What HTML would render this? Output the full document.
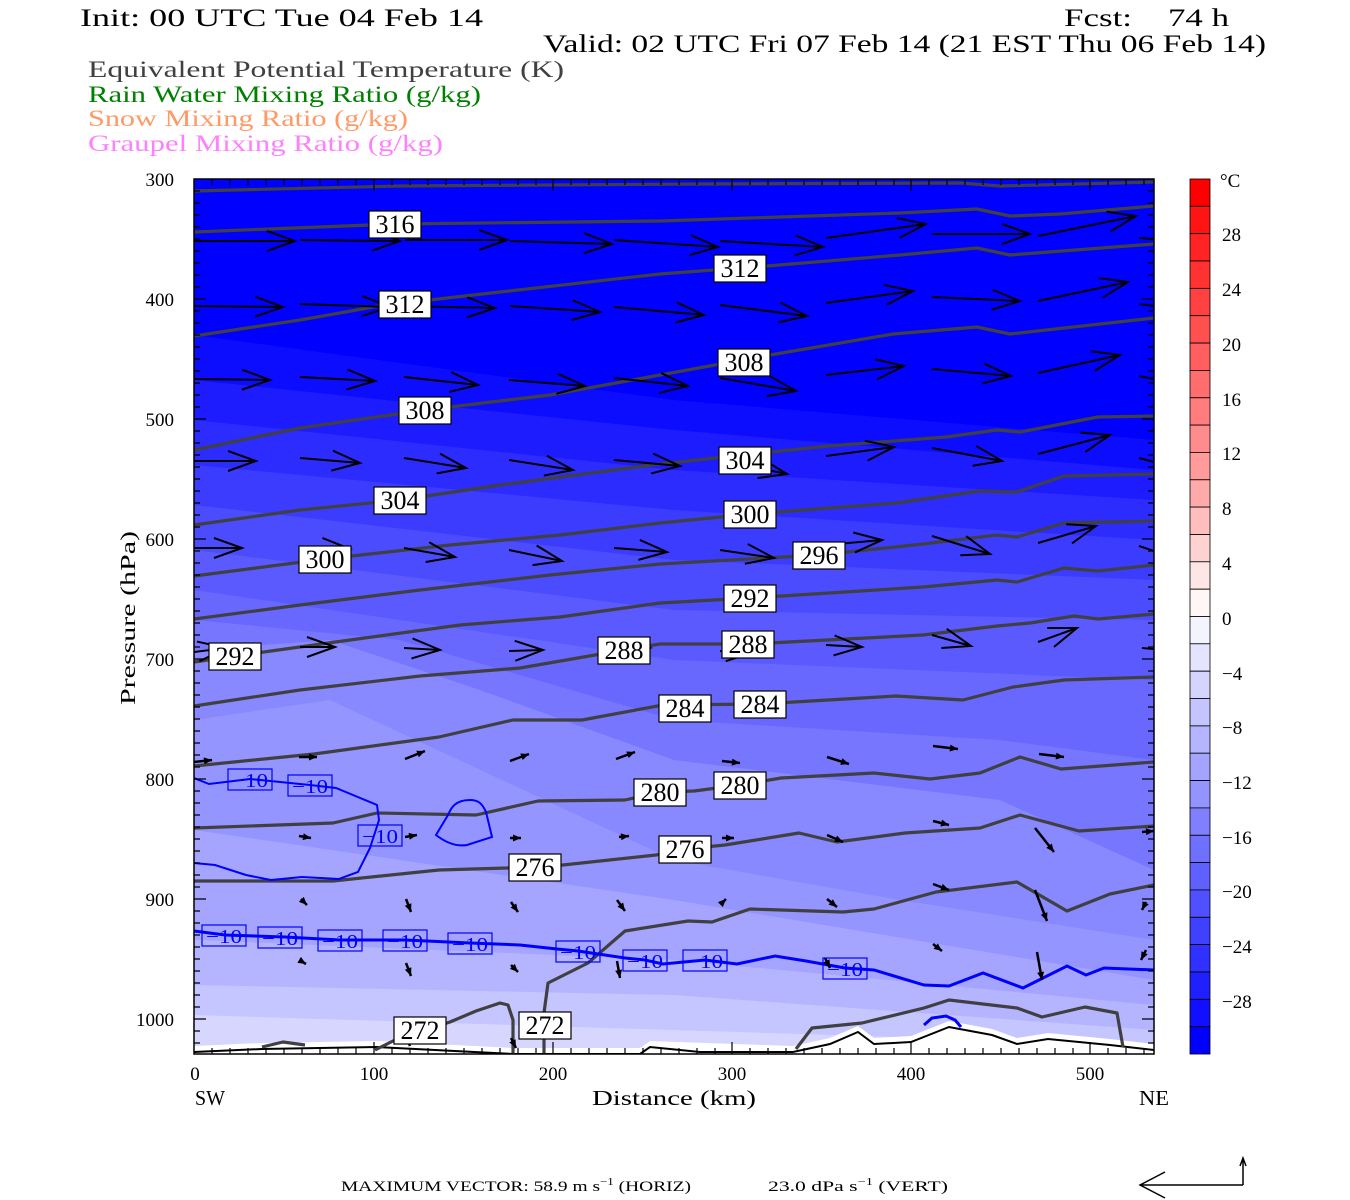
<!DOCTYPE html>
<html><head><meta charset="utf-8"><style>
html,body{margin:0;padding:0;background:#fff;}
svg{display:block;}
text{font-family:"Liberation Serif",serif;}
.cl{fill:#fff;stroke:#000;stroke-width:1.2;}
.ct{font-family:"Liberation Serif",serif;font-size:26px;fill:#000;text-anchor:middle;}
.bl{fill:none;stroke:#0000ff;stroke-width:1.2;}
.bt{font-size:20px;fill:#0000ff;}
.th{fill:none;stroke:#404040;stroke-width:3.2;stroke-linejoin:round;}
.ar{fill:none;stroke:#000;stroke-width:2;marker-end:url(#ab);}
.as{fill:none;stroke:#000;stroke-width:2.5;marker-end:url(#as);}
.ax{font-size:19px;fill:#000;}
</style></head><body>
<svg width="1350" height="1200" viewBox="0 0 1350 1200" xmlns="http://www.w3.org/2000/svg">
<defs>
<marker id="ab" markerUnits="userSpaceOnUse" markerWidth="40" markerHeight="30" viewBox="-32 -15 40 30" refX="0" refY="0" orient="auto"><path d="M-28,-10 L0,0 L-28,10" fill="none" stroke="#000" stroke-width="2"/></marker>
<marker id="as" markerUnits="userSpaceOnUse" markerWidth="14" markerHeight="12" viewBox="-10 -6 14 12" refX="0" refY="0" orient="auto"><path d="M-8,-3.5 L0,0 L-8,3.5 Z" fill="#000"/></marker>
<clipPath id="pc"><rect x="194" y="179" width="960" height="875"/></clipPath>
</defs>

<!-- header -->
<text x="80" y="26" font-size="25" textLength="403" lengthAdjust="spacingAndGlyphs">Init: 00 UTC Tue 04 Feb 14</text>
<text x="1064" y="26" font-size="25" textLength="68" lengthAdjust="spacingAndGlyphs">Fcst:</text>
<text x="1168" y="26" font-size="25" textLength="61" lengthAdjust="spacingAndGlyphs">74 h</text>
<text x="543" y="52" font-size="25" textLength="723" lengthAdjust="spacingAndGlyphs">Valid: 02 UTC Fri 07 Feb 14 (21 EST Thu 06 Feb 14)</text>
<text x="88" y="77" font-size="23" fill="#404040" textLength="476" lengthAdjust="spacingAndGlyphs">Equivalent Potential Temperature (K)</text>
<text x="88" y="102" font-size="23" fill="#008000" textLength="393" lengthAdjust="spacingAndGlyphs">Rain Water Mixing Ratio (g/kg)</text>
<text x="88" y="126" font-size="23" fill="#ff9966" textLength="320" lengthAdjust="spacingAndGlyphs">Snow Mixing Ratio (g/kg)</text>
<text x="88" y="151" font-size="23" fill="#ff80ff" textLength="355" lengthAdjust="spacingAndGlyphs">Graupel Mixing Ratio (g/kg)</text>

<g clip-path="url(#pc)">
<rect x="194" y="179" width="960" height="875" fill="#0000ff"/>
<polygon fill="#0c0cff" points="194,335 674,400 1154,440 1154,1054 194,1054"/>
<polygon fill="#1c1cff" points="194,380 674,430 1154,470 1154,1054 194,1054"/>
<polygon fill="#2c2cff" points="194,420 674,470 1154,500 1154,1054 194,1054"/>
<polygon fill="#3c3cff" points="194,465 674,510 1154,540 1154,1054 194,1054"/>
<polygon fill="#4c4cff" points="194,505 674,560 1154,580 1154,1054 194,1054"/>
<polygon fill="#5a5aff" points="194,550 674,610 1154,620 1154,1054 194,1054"/>
<polygon fill="#6868ff" points="194,590 674,660 1154,680 1154,1054 194,1054"/>
<polygon fill="#7676ff" points="194,620 400,640 674,720 1000,740 1154,760 1154,1054 194,1054"/>
<polygon fill="#8888ff" points="194,650 330,640 480,690 674,760 1000,800 1154,870 1154,1054 194,1054"/>
<polygon fill="#9595ff" points="194,720 330,700 674,860 900,900 1154,940 1154,1054 194,1054"/>
<polygon fill="#a5a5ff" points="194,830 674,900 1154,980 1154,1054 194,1054"/>
<polygon fill="#b5b5ff" points="194,940 674,960 1154,1005 1154,1054 194,1054"/>
<polygon fill="#c5c5ff" points="194,985 674,995 1154,1030 1154,1054 194,1054"/>
<polygon fill="#d6d6ff" points="194,1015 674,1030 1154,1045 1154,1054 194,1054"/>
<polygon fill="#ffffff" points="194,1046 262,1043 377,1041 513,1048 640,1048 650,1041 793,1046 830,1038 858,1026 874,1038 911,1036 949,1021 992,1029 1017,1038 1048,1033 1110,1039 1154,1044 1154,1054 194,1054"/>
<polyline fill="none" stroke="#000" stroke-width="2" points="194,1052 262,1049 377,1047 513,1054 640,1054 650,1047 700,1052 793,1052 830,1044 858,1032 874,1044 911,1042 949,1027 992,1035 1017,1044 1048,1039 1110,1045 1154,1050"/>

<polyline class="th" points="194,191 400,186 700,184 960,183 1000,186 1154,182"/>
<polyline class="th" points="194,232 395,224 660,221 900,213 977,209 1010,216 1060,214 1154,206"/>
<polyline class="th" points="194,336 300,320 385,305 500,292 660,274 767,266 900,255 977,248 1010,255 1154,244"/>
<polyline class="th" points="194,450 300,428 425,410 550,395 660,375 770,355 893,334 977,327 1010,334 1154,318"/>
<polyline class="th" points="194,525 300,510 400,500 500,485 660,464 828,446 946,437 997,430 1020,432 1098,417 1154,416"/>
<polyline class="th" points="194,576 325,559 450,545 560,535 660,523 751,514 896,503 980,491 1017,492 1064,476 1154,474"/>
<polyline class="th" points="194,619 300,605 420,590 550,575 660,564 819,555 923,544 997,535 1017,537 1064,523 1154,521"/>
<polyline class="th" points="194,662 235,656 350,640 460,625 560,617 660,603 750,598 923,587 997,580 1017,582 1064,568 1098,571 1154,565"/>
<polyline class="th" points="194,706 300,690 420,676 520,668 624,650 660,644 750,644 923,635 997,626 1030,623 1074,616 1098,619 1154,614"/>
<polyline class="th" points="194,766 314,754 439,737 513,720 582,720 663,705 760,704 896,696 963,700 1013,687 1064,680 1154,677"/>
<polyline class="th" points="194,828 333,823 377,813 476,815 538,801 625,800 660,792 694,791 740,785 781,778 874,773 930,779 980,773 1020,757 1061,769 1154,762"/>
<polyline class="th" points="194,881 333,881 439,870 507,868 563,865 656,855 685,849 725,845 799,833 837,842 905,833 980,828 1020,815 1079,831 1154,826"/>
<polyline class="th" points="544,1054 544,1013 548,983 588,963 625,931 688,921 712,922 750,909 843,912 874,909 936,892 1017,882 1067,911 1110,894 1154,885"/>
<polyline class="th" points="375,1050 395,1040 450,1022 476,1011 500,1003 508,1005 513,1020 513,1054"/>
<polyline class="th" points="262,1047 283,1042 305,1045"/>
<polyline class="th" points="796,1049 812,1028 862,1023 924,1008 949,1000 1017,1008 1042,1017 1085,1007 1117,1013 1123,1047"/>

<polyline fill="none" stroke="#0000ff" stroke-width="2" points="194,778 209,784 250,779 310,785 336,788 377,805 379,820 370,848 358,872 339,879 302,877 271,880 246,875 215,865 194,863"/>
<path fill="none" stroke="#0000ff" stroke-width="2" d="M470,800 C455,800 451,808 448,815 L436,835 C445,842 455,847 467,845 L492,837 L486,812 C482,803 478,800 470,800 Z"/>
<polyline fill="none" stroke="#0000ff" stroke-width="3" points="194,931 225,935 285,937 340,940 405,940 470,943 520,945 557,949 578,951 625,958 645,960 663,964 705,960 737,964 775,956 806,961 845,968 874,970 924,985 949,986 983,973 1023,988 1067,966 1086,975 1104,968 1154,970"/>
<polyline fill="none" stroke="#0000ff" stroke-width="3" points="924,1025 932,1018 946,1016 955,1020 961,1027"/>

<g>
<line class="ar" x1="194" y1="241" x2="295" y2="241"/><line class="ar" x1="300" y1="240" x2="400" y2="241"/><line class="ar" x1="405" y1="240" x2="507" y2="240"/><line class="ar" x1="510" y1="241" x2="612" y2="244"/><line class="ar" x1="614" y1="240" x2="718" y2="247"/><line class="ar" x1="720" y1="241" x2="823" y2="247"/><line class="ar" x1="826" y1="238" x2="926" y2="224"/><line class="ar" x1="932" y1="234" x2="1030" y2="234"/><line class="ar" x1="1038" y1="236" x2="1136" y2="216"/><line x1="1139" y1="238" x2="1154" y2="239" stroke="#000" stroke-width="2"/>
<line class="ar" x1="194" y1="306" x2="283" y2="307"/><line class="ar" x1="300" y1="304" x2="390" y2="307"/><line class="ar" x1="405" y1="306" x2="495" y2="308"/><line class="ar" x1="510" y1="306" x2="600" y2="312"/><line class="ar" x1="614" y1="307" x2="704" y2="315"/><line class="ar" x1="720" y1="305" x2="807" y2="316"/><line class="ar" x1="826" y1="303" x2="913" y2="291"/><line class="ar" x1="932" y1="297" x2="1020" y2="301"/><line class="ar" x1="1038" y1="301" x2="1128" y2="282"/><line x1="1139" y1="304" x2="1154" y2="306" stroke="#000" stroke-width="2"/>
<line class="ar" x1="194" y1="379" x2="270" y2="380"/><line class="ar" x1="300" y1="377" x2="375" y2="381"/><line class="ar" x1="404" y1="377" x2="478" y2="385"/><line class="ar" x1="509" y1="380" x2="585" y2="386"/><line class="ar" x1="614" y1="378" x2="688" y2="386"/><line class="ar" x1="720" y1="378" x2="796" y2="391"/><line class="ar" x1="826" y1="375" x2="904" y2="366"/><line class="ar" x1="932" y1="369" x2="1011" y2="376"/><line class="ar" x1="1038" y1="373" x2="1120" y2="355"/><line x1="1139" y1="376" x2="1154" y2="379" stroke="#000" stroke-width="2"/>
<line class="ar" x1="194" y1="461" x2="256" y2="461"/><line class="ar" x1="300" y1="458" x2="360" y2="463"/><line class="ar" x1="404" y1="458" x2="466" y2="468"/><line class="ar" x1="509" y1="460" x2="573" y2="470"/><line class="ar" x1="614" y1="460" x2="680" y2="466"/><line class="ar" x1="720" y1="460" x2="787" y2="474"/><line class="ar" x1="826" y1="456" x2="894" y2="447"/><line class="ar" x1="932" y1="448" x2="1002" y2="461"/><line class="ar" x1="1038" y1="454" x2="1110" y2="435"/><line x1="1139" y1="458" x2="1154" y2="462" stroke="#000" stroke-width="2"/>
<line class="ar" x1="194" y1="548" x2="242" y2="548"/><line class="ar" x1="300" y1="547" x2="350" y2="549"/><line class="ar" x1="404" y1="548" x2="455" y2="557"/><line class="ar" x1="509" y1="550" x2="562" y2="561"/><line class="ar" x1="614" y1="548" x2="667" y2="552"/><line class="ar" x1="720" y1="550" x2="774" y2="558"/><line class="ar" x1="826" y1="545" x2="882" y2="540"/><line class="ar" x1="932" y1="536" x2="990" y2="554"/><line class="ar" x1="1038" y1="543" x2="1096" y2="526"/><line x1="1139" y1="546" x2="1154" y2="551" stroke="#000" stroke-width="2"/>
<line class="ar" x1="194" y1="652" x2="226" y2="648"/><line class="ar" x1="300" y1="647" x2="335" y2="647"/><line class="ar" x1="404" y1="648" x2="440" y2="650"/><line class="ar" x1="509" y1="651" x2="543" y2="650"/><line class="ar" x1="614" y1="650" x2="650" y2="648"/><line class="ar" x1="720" y1="651" x2="754" y2="652"/><line class="ar" x1="826" y1="645" x2="862" y2="647"/><line class="ar" x1="932" y1="635" x2="971" y2="646"/><line class="ar" x1="1038" y1="642" x2="1077" y2="628"/><line x1="1142" y1="648" x2="1154" y2="649" stroke="#000" stroke-width="2"/>
</g>
<g>
<line class="as" x1="194" y1="762" x2="212" y2="760"/><line class="as" x1="299" y1="757" x2="317" y2="757"/><line class="as" x1="405" y1="759" x2="425" y2="751"/><line class="as" x1="510" y1="761" x2="529" y2="754"/><line class="as" x1="616" y1="759" x2="635" y2="752"/><line class="as" x1="722" y1="761" x2="740" y2="763"/><line class="as" x1="827" y1="757" x2="849" y2="764"/><line class="as" x1="933" y1="746" x2="958" y2="749"/><line class="as" x1="1039" y1="754" x2="1064" y2="757"/>
<line class="as" x1="299" y1="836" x2="311" y2="838"/><line class="as" x1="405" y1="837" x2="417" y2="835"/><line class="as" x1="510" y1="838" x2="521" y2="838"/><line class="as" x1="619" y1="837" x2="629" y2="836"/><line class="as" x1="722" y1="838" x2="734" y2="838"/><line class="as" x1="827" y1="835" x2="843" y2="842"/><line class="as" x1="933" y1="821" x2="949" y2="825"/><line class="as" x1="1035" y1="828" x2="1054" y2="852"/><line class="as" x1="1142" y1="832" x2="1154" y2="831"/>
<line class="as" x1="301" y1="899" x2="307" y2="905"/><line class="as" x1="406" y1="899" x2="411" y2="912"/><line class="as" x1="511" y1="902" x2="518" y2="912"/><line class="as" x1="617" y1="900" x2="625" y2="911"/><line class="as" x1="722" y1="903" x2="726" y2="899"/><line class="as" x1="827" y1="899" x2="837" y2="907"/><line class="as" x1="933" y1="884" x2="949" y2="890"/><line class="as" x1="1035" y1="890" x2="1047" y2="921"/><line class="as" x1="1146" y1="902" x2="1142" y2="910"/>
<line class="as" x1="301" y1="961" x2="306" y2="964"/><line class="as" x1="406" y1="963" x2="411" y2="976"/><line class="as" x1="511" y1="965" x2="518" y2="972"/><line class="as" x1="617" y1="961" x2="620" y2="978"/><line class="as" x1="825" y1="958" x2="830" y2="968"/><line class="as" x1="933" y1="944" x2="942" y2="951"/><line class="as" x1="1037" y1="952" x2="1042" y2="980"/><line class="as" x1="1146" y1="950" x2="1141" y2="960"/>
<line class="as" x1="406" y1="1036" x2="410" y2="1046"/><line class="as" x1="511" y1="1038" x2="516" y2="1048"/>
</g>

<g>
<rect class="cl" x="369" y="211" width="52" height="27"/><text class="ct" x="395" y="233">316</text>
<rect class="cl" x="379" y="291" width="52" height="27"/><text class="ct" x="405" y="313">312</text>
<rect class="cl" x="714" y="255" width="52" height="27"/><text class="ct" x="740" y="277">312</text>
<rect class="cl" x="399" y="397" width="52" height="27"/><text class="ct" x="425" y="419">308</text>
<rect class="cl" x="718" y="349" width="52" height="27"/><text class="ct" x="744" y="371">308</text>
<rect class="cl" x="719" y="447" width="52" height="27"/><text class="ct" x="745" y="469">304</text>
<rect class="cl" x="374" y="487" width="52" height="27"/><text class="ct" x="400" y="509">304</text>
<rect class="cl" x="724" y="501" width="52" height="27"/><text class="ct" x="750" y="523">300</text>
<rect class="cl" x="299" y="546" width="52" height="27"/><text class="ct" x="325" y="568">300</text>
<rect class="cl" x="793" y="542" width="52" height="27"/><text class="ct" x="819" y="564">296</text>
<rect class="cl" x="724" y="585" width="52" height="27"/><text class="ct" x="750" y="607">292</text>
<rect class="cl" x="209" y="643" width="52" height="27"/><text class="ct" x="235" y="665">292</text>
<rect class="cl" x="598" y="637" width="52" height="27"/><text class="ct" x="624" y="659">288</text>
<rect class="cl" x="722" y="631" width="52" height="27"/><text class="ct" x="748" y="653">288</text>
<rect class="cl" x="659" y="695" width="52" height="27"/><text class="ct" x="685" y="717">284</text>
<rect class="cl" x="734" y="691" width="52" height="27"/><text class="ct" x="760" y="713">284</text>
<rect class="cl" x="634" y="779" width="52" height="27"/><text class="ct" x="660" y="801">280</text>
<rect class="cl" x="714" y="772" width="52" height="27"/><text class="ct" x="740" y="794">280</text>
<rect class="cl" x="509" y="854" width="52" height="27"/><text class="ct" x="535" y="876">276</text>
<rect class="cl" x="659" y="836" width="52" height="27"/><text class="ct" x="685" y="858">276</text>
<rect class="cl" x="394" y="1017" width="52" height="27"/><text class="ct" x="420" y="1039">272</text>
<rect class="cl" x="519" y="1012" width="52" height="27"/><text class="ct" x="545" y="1034">272</text>
</g>
<g>
<rect class="bl" fill="#a0a0ff" x="228" y="769" width="44" height="21"/><text class="bt" x="232" y="787" textLength="36" lengthAdjust="spacingAndGlyphs">−10</text>
<rect class="bl" fill="#a0a0ff" x="288" y="775" width="44" height="21"/><text class="bt" x="292" y="793" textLength="36" lengthAdjust="spacingAndGlyphs">−10</text>
<rect class="bl" fill="#a0a0ff" x="358" y="825" width="44" height="21"/><text class="bt" x="362" y="843" textLength="36" lengthAdjust="spacingAndGlyphs">−10</text>
<rect class="bl" fill="#a0a0ff" x="202" y="925" width="44" height="21"/><text class="bt" x="206" y="943" textLength="36" lengthAdjust="spacingAndGlyphs">−10</text>
<rect class="bl" fill="#a0a0ff" x="258" y="927" width="44" height="21"/><text class="bt" x="262" y="945" textLength="36" lengthAdjust="spacingAndGlyphs">−10</text>
<rect class="bl" fill="#a0a0ff" x="318" y="930" width="44" height="21"/><text class="bt" x="322" y="948" textLength="36" lengthAdjust="spacingAndGlyphs">−10</text>
<rect class="bl" fill="#a0a0ff" x="383" y="930" width="44" height="21"/><text class="bt" x="387" y="948" textLength="36" lengthAdjust="spacingAndGlyphs">−10</text>
<rect class="bl" fill="#a0a0ff" x="448" y="933" width="44" height="21"/><text class="bt" x="452" y="951" textLength="36" lengthAdjust="spacingAndGlyphs">−10</text>
<rect class="bl" fill="#a0a0ff" x="556" y="941" width="44" height="21"/><text class="bt" x="560" y="959" textLength="36" lengthAdjust="spacingAndGlyphs">−10</text>
<rect class="bl" fill="#a0a0ff" x="623" y="950" width="44" height="21"/><text class="bt" x="627" y="968" textLength="36" lengthAdjust="spacingAndGlyphs">−10</text>
<rect class="bl" fill="#a0a0ff" x="683" y="950" width="44" height="21"/><text class="bt" x="687" y="968" textLength="36" lengthAdjust="spacingAndGlyphs">−10</text>
<rect class="bl" fill="#a0a0ff" x="823" y="958" width="44" height="21"/><text class="bt" x="827" y="976" textLength="36" lengthAdjust="spacingAndGlyphs">−10</text>
</g>
</g>

<rect x="194" y="179" width="960" height="875" fill="none" stroke="#000" stroke-width="1.5"/>
<path stroke="#000" stroke-width="1.2" fill="none" d="
M194,191h6M194,203h6M194,215h6M194,227h6M194,239h6M194,251h6M194,263h6M194,275h6M194,287h6M194,299h12M194,311h6M194,323h6M194,335h6M194,347h6M194,359h6M194,371h6M194,383h6M194,395h6M194,407h6M194,419h12M194,431h6M194,443h6M194,455h6M194,467h6M194,479h6M194,491h6M194,503h6M194,515h6M194,527h6M194,539h12M194,551h6M194,563h6M194,575h6M194,587h6M194,599h6M194,611h6M194,623h6M194,635h6M194,647h6M194,659h12M194,671h6M194,683h6M194,695h6M194,707h6M194,719h6M194,731h6M194,743h6M194,755h6M194,767h6M194,779h12M194,791h6M194,803h6M194,815h6M194,827h6M194,839h6M194,851h6M194,863h6M194,875h6M194,887h6M194,899h12M194,911h6M194,923h6M194,935h6M194,947h6M194,959h6M194,971h6M194,983h6M194,995h6M194,1007h6M194,1019h12M194,1031h6M194,1043h6
M1154,191h-6M1154,203h-6M1154,215h-6M1154,227h-6M1154,239h-6M1154,251h-6M1154,263h-6M1154,275h-6M1154,287h-6M1154,299h-12M1154,311h-6M1154,323h-6M1154,335h-6M1154,347h-6M1154,359h-6M1154,371h-6M1154,383h-6M1154,395h-6M1154,407h-6M1154,419h-12M1154,431h-6M1154,443h-6M1154,455h-6M1154,467h-6M1154,479h-6M1154,491h-6M1154,503h-6M1154,515h-6M1154,527h-6M1154,539h-12M1154,551h-6M1154,563h-6M1154,575h-6M1154,587h-6M1154,599h-6M1154,611h-6M1154,623h-6M1154,635h-6M1154,647h-6M1154,659h-12M1154,671h-6M1154,683h-6M1154,695h-6M1154,707h-6M1154,719h-6M1154,731h-6M1154,743h-6M1154,755h-6M1154,767h-6M1154,779h-12M1154,791h-6M1154,803h-6M1154,815h-6M1154,827h-6M1154,839h-6M1154,851h-6M1154,863h-6M1154,875h-6M1154,887h-6M1154,899h-12M1154,911h-6M1154,923h-6M1154,935h-6M1154,947h-6M1154,959h-6M1154,971h-6M1154,983h-6M1154,995h-6M1154,1007h-6M1154,1019h-12M1154,1031h-6M1154,1043h-6
M212,1054v-6M230,1054v-6M248,1054v-6M266,1054v-6M284,1054v-6M302,1054v-6M320,1054v-6M338,1054v-6M356,1054v-6M374,1054v-12M392,1054v-6M410,1054v-6M428,1054v-6M446,1054v-6M464,1054v-6M482,1054v-6M500,1054v-6M518,1054v-6M536,1054v-6M553,1054v-12M571,1054v-6M589,1054v-6M607,1054v-6M625,1054v-6M643,1054v-6M661,1054v-6M679,1054v-6M697,1054v-6M715,1054v-6M732,1054v-12M750,1054v-6M768,1054v-6M786,1054v-6M804,1054v-6M822,1054v-6M840,1054v-6M858,1054v-6M876,1054v-6M894,1054v-6M911,1054v-12M929,1054v-6M947,1054v-6M965,1054v-6M983,1054v-6M1001,1054v-6M1019,1054v-6M1037,1054v-6M1055,1054v-6M1073,1054v-6M1090,1054v-12M1108,1054v-6M1126,1054v-6M1144,1054v-6
M212,179v6M230,179v6M248,179v6M266,179v6M284,179v6M302,179v6M320,179v6M338,179v6M356,179v6M374,179v12M392,179v6M410,179v6M428,179v6M446,179v6M464,179v6M482,179v6M500,179v6M518,179v6M536,179v6M553,179v12M571,179v6M589,179v6M607,179v6M625,179v6M643,179v6M661,179v6M679,179v6M697,179v6M715,179v6M732,179v12M750,179v6M768,179v6M786,179v6M804,179v6M822,179v6M840,179v6M858,179v6M876,179v6M894,179v6M911,179v12M929,179v6M947,179v6M965,179v6M983,179v6M1001,179v6M1019,179v6M1037,179v6M1055,179v6M1073,179v6M1090,179v12M1108,179v6M1126,179v6M1144,179v6"/>

<g class="ax" text-anchor="end">
<text x="174" y="186">300</text><text x="174" y="306">400</text><text x="174" y="426">500</text><text x="174" y="546">600</text><text x="174" y="666">700</text><text x="174" y="786">800</text><text x="174" y="906">900</text><text x="174" y="1026">1000</text>
</g>
<text transform="translate(135,618) rotate(-90)" font-size="21" text-anchor="middle" textLength="174" lengthAdjust="spacingAndGlyphs">Pressure (hPa)</text>
<g class="ax" text-anchor="middle">
<text x="195" y="1080">0</text><text x="374" y="1080">100</text><text x="553" y="1080">200</text><text x="732" y="1080">300</text><text x="911" y="1080">400</text><text x="1090" y="1080">500</text>
</g>
<text x="195" y="1105" font-size="21" textLength="30" lengthAdjust="spacingAndGlyphs">SW</text>
<text x="1139" y="1105" font-size="21" textLength="30" lengthAdjust="spacingAndGlyphs">NE</text>
<text x="592" y="1105" font-size="21" textLength="164" lengthAdjust="spacingAndGlyphs">Distance (km)</text>

<g stroke="#000" stroke-width="0.8">
<rect x="1190" y="179.0" width="20" height="27.34" fill="#ff0000"/>
<rect x="1190" y="206.3" width="20" height="27.34" fill="#ff1414"/>
<rect x="1190" y="233.7" width="20" height="27.34" fill="#ff2323"/>
<rect x="1190" y="261.0" width="20" height="27.34" fill="#ff3232"/>
<rect x="1190" y="288.4" width="20" height="27.34" fill="#ff4141"/>
<rect x="1190" y="315.7" width="20" height="27.34" fill="#ff5050"/>
<rect x="1190" y="343.1" width="20" height="27.34" fill="#ff5f5f"/>
<rect x="1190" y="370.4" width="20" height="27.34" fill="#ff6e6e"/>
<rect x="1190" y="397.8" width="20" height="27.34" fill="#ff7d7d"/>
<rect x="1190" y="425.1" width="20" height="27.34" fill="#ff8c8c"/>
<rect x="1190" y="452.4" width="20" height="27.34" fill="#ff9b9b"/>
<rect x="1190" y="479.8" width="20" height="27.34" fill="#ffaaaa"/>
<rect x="1190" y="507.1" width="20" height="27.34" fill="#ffbebe"/>
<rect x="1190" y="534.5" width="20" height="27.34" fill="#ffd2d2"/>
<rect x="1190" y="561.8" width="20" height="27.34" fill="#ffe6e6"/>
<rect x="1190" y="589.2" width="20" height="27.34" fill="#fff6f6"/>
<rect x="1190" y="616.5" width="20" height="27.34" fill="#f4f4ff"/>
<rect x="1190" y="643.8" width="20" height="27.34" fill="#e4e4ff"/>
<rect x="1190" y="671.2" width="20" height="27.34" fill="#d4d4ff"/>
<rect x="1190" y="698.5" width="20" height="27.34" fill="#c4c4ff"/>
<rect x="1190" y="725.9" width="20" height="27.34" fill="#b4b4ff"/>
<rect x="1190" y="753.2" width="20" height="27.34" fill="#a4a4ff"/>
<rect x="1190" y="780.6" width="20" height="27.34" fill="#9494ff"/>
<rect x="1190" y="807.9" width="20" height="27.34" fill="#8080ff"/>
<rect x="1190" y="835.3" width="20" height="27.34" fill="#7070ff"/>
<rect x="1190" y="862.6" width="20" height="27.34" fill="#6060ff"/>
<rect x="1190" y="889.9" width="20" height="27.34" fill="#5050ff"/>
<rect x="1190" y="917.3" width="20" height="27.34" fill="#4040ff"/>
<rect x="1190" y="944.6" width="20" height="27.34" fill="#3030ff"/>
<rect x="1190" y="972.0" width="20" height="27.34" fill="#2020ff"/>
<rect x="1190" y="999.3" width="20" height="27.34" fill="#1010ff"/>
<rect x="1190" y="1026.7" width="20" height="27.34" fill="#0000ff"/>
</g>
<g class="ax">
<text x="1220" y="187">°C</text>
<text x="1222" y="241">28</text><text x="1222" y="296">24</text><text x="1222" y="351">20</text><text x="1222" y="406">16</text><text x="1222" y="460">12</text><text x="1222" y="515">8</text><text x="1222" y="570">4</text><text x="1222" y="625">0</text>
<text x="1222" y="680">−4</text><text x="1222" y="734">−8</text><text x="1222" y="789">−12</text><text x="1222" y="844">−16</text><text x="1222" y="898">−20</text><text x="1222" y="953">−24</text><text x="1222" y="1008">−28</text>
</g>

<text x="341" y="1191" font-size="15" textLength="350" lengthAdjust="spacingAndGlyphs">MAXIMUM VECTOR:  58.9 m s<tspan dy="-6" font-size="10">−1</tspan><tspan dy="6"> (HORIZ)</tspan></text>
<text x="768" y="1191" font-size="15" textLength="180" lengthAdjust="spacingAndGlyphs">23.0 dPa s<tspan dy="-6" font-size="10">−1</tspan><tspan dy="6"> (VERT)</tspan></text>
<path d="M1243,1185 H1140 M1165,1172 L1140,1185 L1165,1198 M1243,1185 V1158 M1240,1166 L1243,1158 L1246,1166" fill="none" stroke="#000" stroke-width="1.5"/>
</svg>
</body></html>
